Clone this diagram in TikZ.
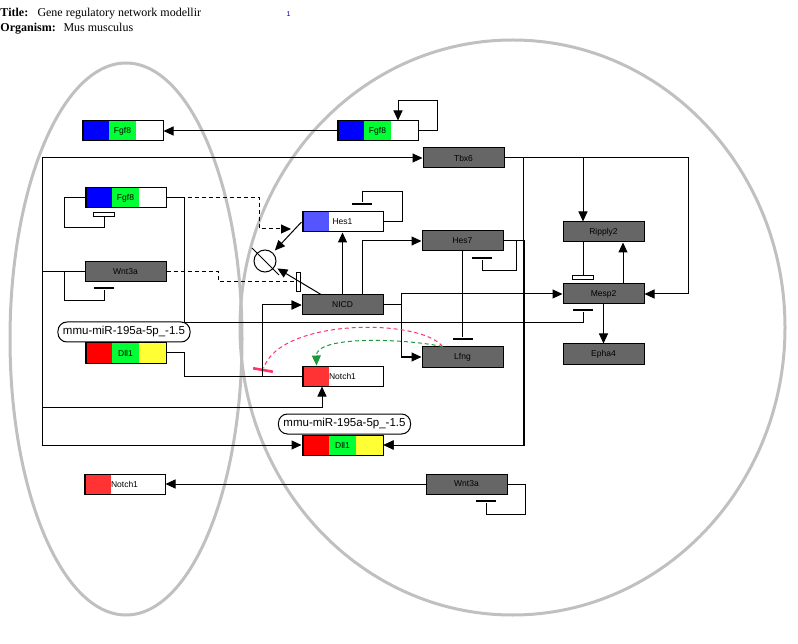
\documentclass[tikz,border=0pt]{standalone}
\usepackage{fontspec}
\setmainfont{Liberation Serif}
\newfontfamily\lsans{Liberation Sans}
\usetikzlibrary{arrows.meta}
\definecolor{nodegray}{HTML}{666666}
\definecolor{gblue}{HTML}{0000FF}
\definecolor{hblue}{HTML}{5555FF}
\definecolor{ggreen}{HTML}{00FF33}
\definecolor{gyellow}{HTML}{FFFF33}
\definecolor{gred}{HTML}{FF0000}
\definecolor{nred}{HTML}{FF3333}
\definecolor{ellgray}{HTML}{C0C0C0}
\definecolor{rdash}{HTML}{FF3366}
\definecolor{gdash}{HTML}{1A9A3A}
\definecolor{pageblue}{HTML}{0000AA}
\begin{document}
\begin{tikzpicture}[x=1pt,y=-1pt,line width=1pt,
  gene/.style={draw=black,line width=1pt,minimum width=81pt,minimum height=20pt,inner sep=0pt,
    font=\lsans\fontsize{8.5}{10}\selectfont},
  grey/.style={gene,fill=nodegray},
  tri/.style n args={3}{gene,path picture={
    \fill[#1] (path picture bounding box.north west) rectangle ++(27,20);
    \fill[#2] ([xshift=27pt]path picture bounding box.north west) rectangle ++(27,20);
    \fill[#3] ([xshift=54pt]path picture bounding box.north west) rectangle ++(27,20);
    \fill[black] (path picture bounding box.north west) rectangle ++(1.6,20);}},
  mir/.style={draw,rounded corners=9pt,fill=white,minimum height=20pt,inner xsep=5pt,inner ysep=0pt,
    font=\lsans\fontsize{11.5}{13}\selectfont},
  arr/.style={-{Triangle[length=10pt,width=9pt]}},
  dsh/.style={dash pattern=on 4pt off 3pt},
  tbar/.style={fill=black,minimum width=20pt,minimum height=2.6pt,inner sep=0pt},
  hbar/.style={draw,fill=white,minimum width=21pt,minimum height=4pt,inner sep=0pt,line width=0.8pt},
  hbarv/.style={draw,fill=white,minimum width=4pt,minimum height=19pt,inner sep=0pt,line width=0.8pt},
  ell/.style={draw=ellgray,line width=3pt},
  txt/.style={anchor=base west,inner sep=0pt,font=\fontsize{12}{14}\selectfont}]
\useasboundingbox (0,0) rectangle (798,644);

% compartments
\draw[ell] (126,339) ellipse [x radius=116pt,y radius=276pt];
\draw[ell] (512.5,327.5) ellipse [x radius=272.5pt,y radius=287.5pt];

% header
\node[txt,font=\fontsize{12}{14}\selectfont\bfseries] (ttl) at (0,17) {Title:};
\node[txt] (ttx) at (37,17) {Gene regulatory network modellir};
\node[txt,font=\fontsize{12}{14}\selectfont\bfseries] (org) at (0,32) {Organism:};
\node[txt] (orx) at (63,32) {Mus musculus};
\node[anchor=base west,inner sep=0pt,font=\lsans\fontsize{7}{8}\selectfont,text=pageblue] (pg) at (286,17) {1};

% genes
\node[tri={gblue}{ggreen}{white}] (fgfA) at (122.5,131) {Fgf8};
\node[tri={gblue}{ggreen}{white}] (fgfB) at (377.5,131) {Fgf8};
\node[grey] (tbx6) at (463.5,158) {Tbx6};
\node[tri={gblue}{ggreen}{white}] (fgfC) at (125.5,198) {Fgf8};
\node[grey] (wntA) at (125.5,272) {Wnt3a};
\node[tri={gred}{ggreen}{gyellow}] (dllA) at (125.5,353) {Dll1};
\node[tri={hblue}{white}{white}] (hes1) at (342.5,222) {Hes1};
\node[grey] (nicd) at (342.5,305) {NICD};
\node[grey] (hes7) at (462.5,241) {Hes7};
\node[grey] (lfng) at (462.5,357) {Lfng};
\node[tri={nred}{white}{white}] (notchA) at (342.5,376) {Notch1};
\node[tri={gred}{ggreen}{gyellow}] (dllB) at (342.5,445) {Dll1};
\node[grey] (ripply2) at (603.5,232) {Ripply2};
\node[grey] (mesp2) at (603.5,294) {Mesp2};
\node[grey] (epha4) at (603.5,354) {Epha4};
\node[tri={nred}{white}{white}] (notchB) at (124.5,484) {Notch1};
\node[grey] (wntB) at (466.5,484) {Wnt3a};

% microRNA labels
\node[mir] (mirA) at (124,332) {mmu-miR-195a-5p\_-1.5};
\node[mir] (mirB) at (344.5,424) {mmu-miR-195a-5p\_-1.5};

% degradation symbol
\node[circle,draw,minimum size=22pt,inner sep=0pt] (deg) at (265,261) {};
\draw ([shift={(-13pt,13pt)}]deg.center) -- ([shift={(14pt,-14pt)}]deg.center);

% inhibition bars
\node[tbar] (tbw) at (104,288) {};
\node[hbar] (hbf) at (104,214) {};
\node[tbar] (tbm) at (583,310) {};
\node[hbarv] (hbn) at (298.5,281.5) {};
\node[tbar] (tbh1) at (362,204) {};
\node[tbar] (tbl) at (462.5,339) {};
\node[tbar] (tbh7) at (482,258) {};
\node[hbar] (hbr) at (583,277) {};
\node[tbar] (tbw2) at (486,501) {};
\node[tbar,fill=rdash,rotate=-10] (rb) at (263,370) {};
\coordinate (mod1) at (291,229);

% Fgf8
\draw[arr] (fgfB.west) -- (fgfA.east);
\draw[arr] (fgfB.east) -- (437,131) -- (437,101) -| ([xshift=20.5pt]fgfB.north);
\draw (fgfC.west) -- (64,198) -- (64,228) -| (hbf.south);
\draw (fgfC.east) -- (184,198) -- (184,323) -| (tbm.south);
\draw[dsh,arr] (fgfC.east) -- (259,198) -- (259,229) -- (mod1);

% Wnt3a
\draw[arr] (wntA.west) -- (42,272) -- (42,158) -- (tbx6.west);
\draw[arr] (wntA.west) -- (42,272) -- (42,407) -| ([xshift=-20.5pt]notchA.south);
\draw[arr] (wntA.west) -- (42,272) -- (42,445) -- (dllB.west);
\draw (wntA.west) -- (64,272) -- (64,301) -| (tbw.south);
\draw[dsh] (wntA.east) -- (218,272) |- (hbn.west);

% degradation of Hes1 / NICD
\draw[arr,shorten >=3pt] (hes1.west) -- (deg);
\draw[arr,shorten >=3pt] ([xshift=-21.5pt]nicd.north) -- (deg);

% Hes1
\draw (hes1.east) -- (402,222) -- (402,192) -| (tbh1.north);

% NICD targets
\draw[arr] (nicd.north) -- (hes1.south);
\draw[arr] ([xshift=19.5pt]nicd.north) |- (hes7.west);
\draw[arr] (nicd.east) -- (401,305) |- (lfng.west);
\draw[arr] (nicd.east) -- (401,305) |- (mesp2.west);

% Notch activation
\draw[arr] (dllA.east) -- (184,353) -- (184,376) -- (262,376) |- (nicd.west);
\draw[arr] (notchA.west) -- (262,376) |- (nicd.west);

% Lfng modulation
\draw[rdash,dsh] ([xshift=21pt]lfng.north west) .. controls (420,318) and (280,318) .. (rb);
\draw[gdash,dsh,-{Triangle[length=10pt,width=9pt]}] ([xshift=21pt]lfng.north west) .. controls (400,338) and (316,336) .. ([xshift=-26pt]notchA.north);

% Hes7
\draw (hes7.south) -- (tbl.north);
\draw (hes7.east) -- (516,241) -- (516,271) -| (tbh7.south);
\draw[arr] (hes7.east) -- (524,241) |- (dllB.east);

% Tbx6
\draw[arr] (tbx6.east) -- (523,158) |- (dllB.east);
\draw[arr] (tbx6.east) -| ([xshift=-20.5pt]ripply2.north);
\draw[arr] (tbx6.east) -- (688,158) |- (mesp2.east);

% Mesp2 / Ripply2
\draw[arr] ([xshift=19.5pt]mesp2.north) -- ([xshift=19.5pt]ripply2.south);
\draw ([xshift=-20.5pt]ripply2.south) -- (hbr.north);
\draw[arr] (mesp2.south) -- (epha4.north);

% Wnt3a (lower)
\draw[arr] (wntB.west) -- (notchB.east);
\draw (wntB.east) -- (525,484) -- (525,514) -| (tbw2.south);
\end{tikzpicture}
\end{document}
